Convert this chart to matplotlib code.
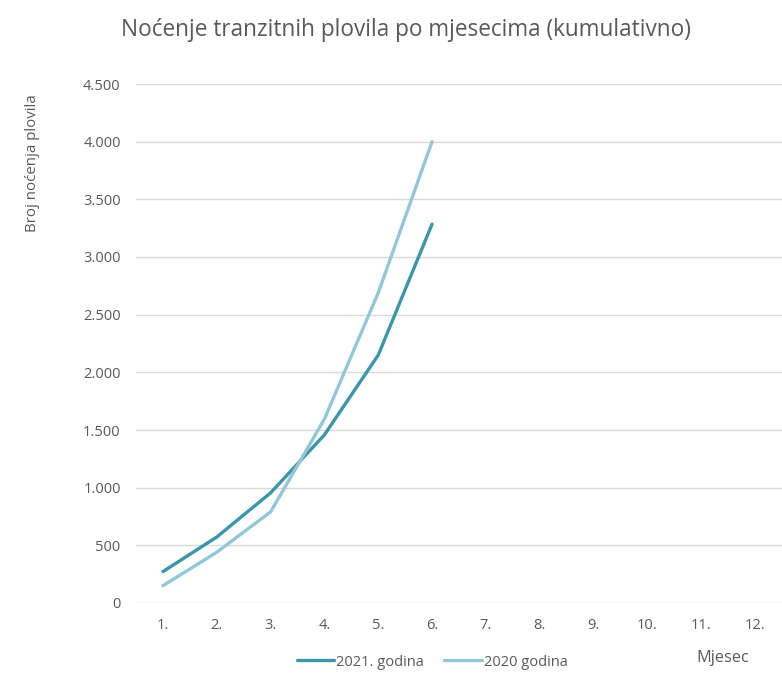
import matplotlib.pyplot as plt
from matplotlib.ticker import FuncFormatter

# data
months = ['1.', '2.', '3.', '4.', '5.', '6.', '7.', '8.', '9.', '10.', '11.', '12.']
y2021 = [272, 572, 955, 1458, 2150, 3285]
y2020 = [150, 440, 790, 1595, 2690, 4000]
yticks = [0, 500, 1000, 1500, 2000, 2500, 3000, 3500, 4000, 4500]

dark = '#3A96A9'
light = '#93C6D7'
grey = '#595959'

plt.rcParams['font.family'] = ['Open Sans', 'DejaVu Sans']

fig = plt.figure(figsize=(7.82, 6.73), dpi=100)
ax = fig.add_axes([136 / 782, 70 / 673, 1 - 136 / 782, 519 / 673])

x = list(range(1, len(months) + 1))
l1, = ax.plot(x[:len(y2021)], y2021, color=dark, lw=2.4, solid_capstyle='round')
l2, = ax.plot(x[:len(y2020)], y2020, color=light, lw=2.4, solid_capstyle='round')

ax.set_xlim(0.5, 12.5)
ax.set_ylim(0, 4500)
ax.set_xticks(x)
ax.set_xticklabels(months)
ax.set_yticks(yticks)
ax.yaxis.set_major_formatter(FuncFormatter(lambda v, p: f'{int(v):,}'.replace(',', '.')))
ax.grid(axis='y', color='#D9D9D9', lw=1)
ax.set_axisbelow(True)
for s in ax.spines.values():
    s.set_visible(False)
ax.tick_params(length=0, colors=grey, labelsize=10.5)
ax.tick_params(axis='x', pad=11)
ax.tick_params(axis='y', pad=11)

fig.text(406 / 782, 1 - 30 / 673, 'Noćenje tranzitnih plovila po mjesecima (kumulativno)',
         ha='center', va='center', fontsize=16.3, color=grey)
fig.text(33 / 782, 1 - 163 / 673, 'Broj noćenja plovila', rotation=90,
         ha='center', va='center', fontsize=10.8, color=grey)
fig.text(723 / 782, 1 - 658 / 673, 'Mjesec', ha='center', va='center',
         fontsize=11.8, color=grey)

fig.legend([l1, l2], ['2021. godina', '2020 godina'], loc='center',
           bbox_to_anchor=(432 / 782, 1 - 662 / 673), ncol=2, frameon=False,
           fontsize=10.5, handlelength=2.6, handletextpad=0.1, columnspacing=1.4,
           labelcolor=grey)

fig.savefig('out.png', dpi=100)
